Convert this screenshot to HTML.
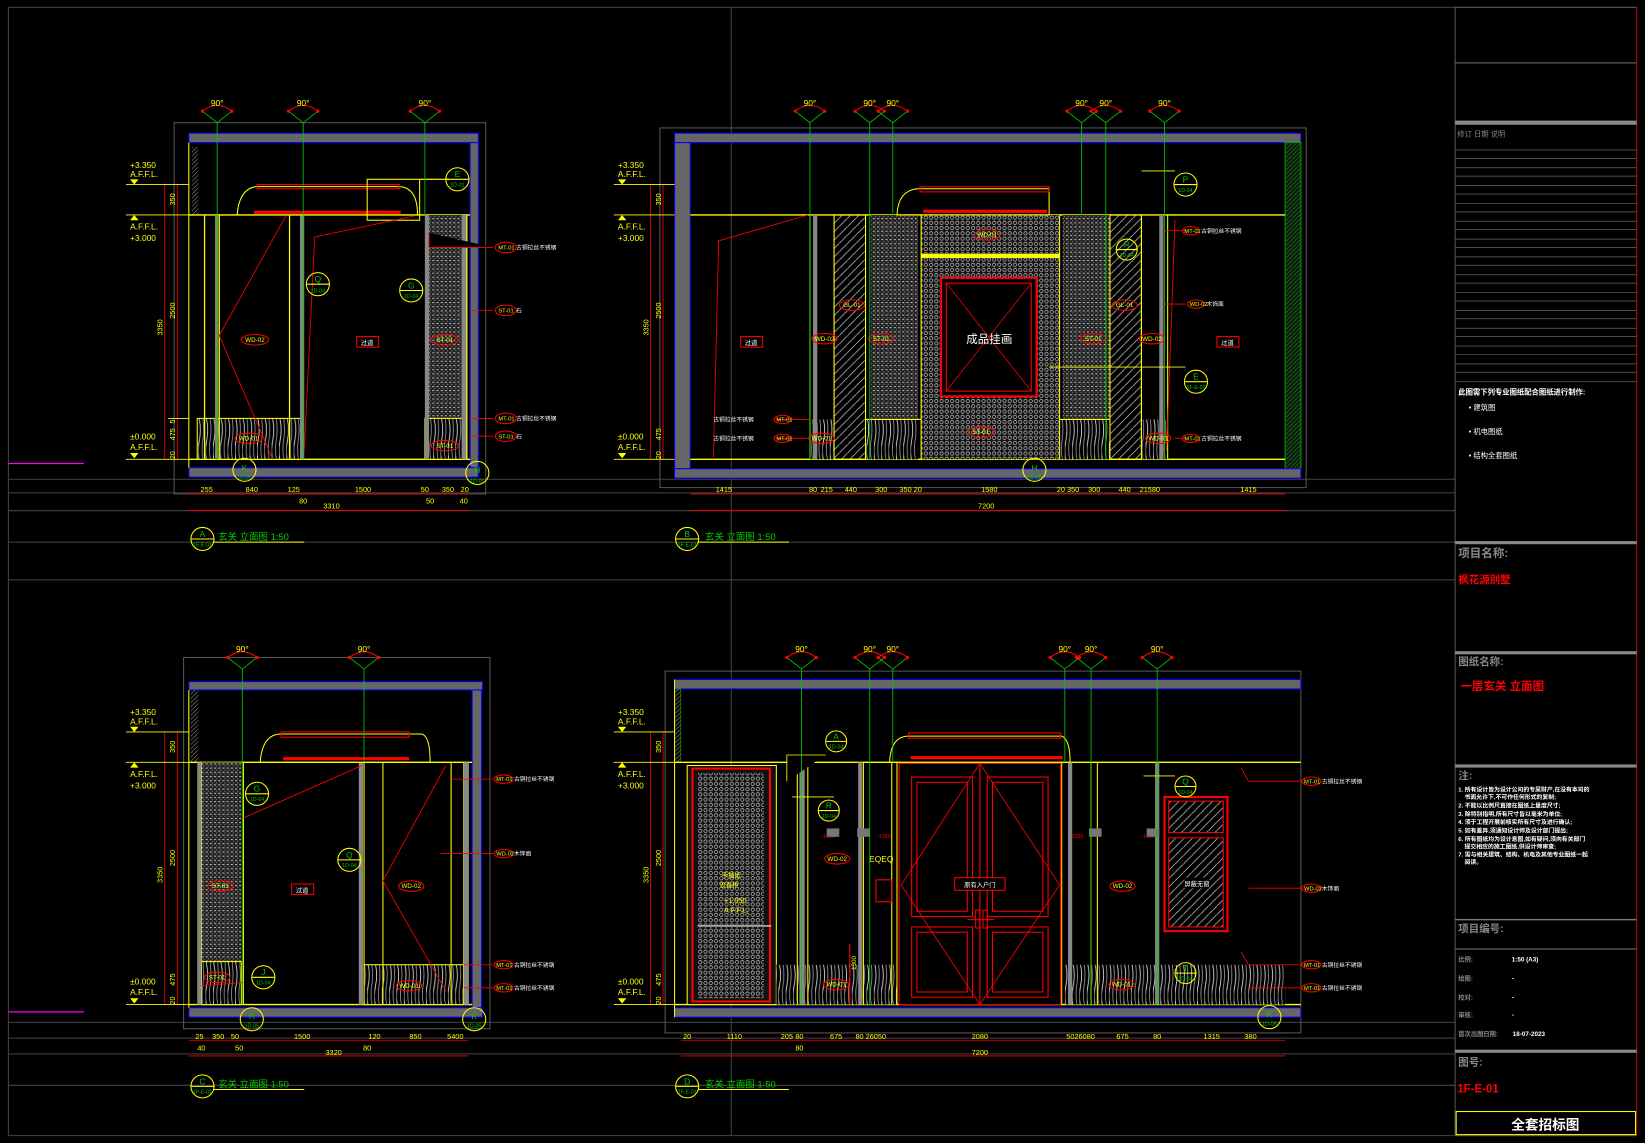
<!DOCTYPE html>
<html><head><meta charset="utf-8">
<style>
html,body{margin:0;padding:0;background:#000;}
svg{display:block;}
text{font-family:"Liberation Sans","Noto Sans CJK SC",sans-serif;}
</style></head>
<body>
<svg width="1645" height="1143" viewBox="0 0 1568 1090" preserveAspectRatio="none" xmlns="http://www.w3.org/2000/svg">
<defs>
<pattern id="wood" width="7" height="40" patternUnits="userSpaceOnUse">
<rect width="7" height="40" fill="#000"/>
<path d="M1 0 Q3 10 1 20 Q-1 30 1 40" stroke="#ddd" stroke-width="0.8" fill="none"/>
<path d="M4.5 0 Q6 12 4 22 Q3 32 5 40" stroke="#999" stroke-width="0.8" fill="none"/>
</pattern>
<pattern id="dots" width="4" height="4" patternUnits="userSpaceOnUse">
<rect width="4" height="4" fill="#222"/>
<rect x="0" y="0" width="2" height="1" fill="#bbb"/>
<rect x="2" y="2" width="1" height="1" fill="#888"/>
</pattern>
<pattern id="mesh" width="5" height="5" patternUnits="userSpaceOnUse">
<rect width="5" height="5" fill="#111"/>
<circle cx="2.5" cy="2.5" r="1.6" stroke="#ccc" stroke-width="0.6" fill="none"/>
</pattern>
<pattern id="hatch" width="4" height="4" patternUnits="userSpaceOnUse">
<path d="M0 4 L4 0" stroke="#888" stroke-width="0.6"/>
</pattern>
<pattern id="ghatch" width="4" height="4" patternUnits="userSpaceOnUse">
<path d="M0 4 L4 0" stroke="#0a0" stroke-width="0.6"/>
</pattern>
<pattern id="whatch" width="8" height="8" patternUnits="userSpaceOnUse">
<path d="M0 8 L8 0" stroke="#ccc" stroke-width="0.7"/>
</pattern>
<symbol id="fan" viewBox="-18 0 36 26" width="36" height="26" overflow="visible">
<path d="M-14 11 Q0 0 14 11" stroke="#f00" stroke-width="1" fill="none"/>
<path d="M-14 11 L0 22 L14 11" stroke="#0c0" stroke-width="0.8" fill="none"/>
<circle cx="-14" cy="11" r="1.6" fill="#f00"/><circle cx="14" cy="11" r="1.6" fill="#f00"/>
<text x="0" y="6" font-size="8" fill="#ff0" text-anchor="middle">90°</text>
</symbol>
</defs>
<rect width="1568" height="1090" fill="#000"/>

<!-- frame lines -->
<g stroke="#444" stroke-width="1" fill="none">
<path d="M8 7 H1560 M8 7 V1083 M8 1083 H1560 M697 7 V1083 M8 553 H1387"/>
<path d="M8 457 H1387 M8 470 H1387 M8 487 H1387 M8 517 H1387"/>
<path d="M8 975 H1387 M8 990 H1387 M8 1005 H1387 M8 1035 H1387"/>
</g>
<path d="M8 442 H80 M8 965 H80" stroke="#f0f" stroke-width="1.2"/>

<!-- TITLE BLOCK -->
<g>
<rect x="1387" y="7" width="173" height="1076" fill="none" stroke="#555"/>
<path d="M1560 7 V1083" stroke="#a00"/>
<path d="M1387 60 H1560" stroke="#666"/>
<rect x="1387" y="115" width="173" height="4" fill="#888"/>
<text x="1389" y="130" font-size="7" fill="#888">修订   日期          说明</text>
<g stroke="#666" stroke-width="0.7">
<path d="M1387 143H1560M1387 151H1560M1387 160H1560M1387 168H1560M1387 177H1560M1387 185H1560M1387 194H1560M1387 202H1560M1387 211H1560M1387 219H1560M1387 228H1560M1387 236H1560M1387 245H1560M1387 253H1560M1387 262H1560M1387 270H1560M1387 279H1560M1387 287H1560M1387 296H1560M1387 304H1560M1387 313H1560M1387 321H1560M1387 330H1560M1387 338H1560M1387 347H1560M1387 355H1560M1387 364H1560"/>
</g>
<text x="1390" y="376" font-size="7" fill="#fff" font-weight="bold">此图需下列专业图纸配合图纸进行制作:</text>
<text x="1400" y="391" font-size="7" fill="#fff">• 建筑图</text>
<text x="1400" y="414" font-size="7" fill="#fff">• 机电图纸</text>
<text x="1400" y="437" font-size="7" fill="#fff">• 结构全套图纸</text>
<rect x="1387" y="516" width="173" height="3" fill="#888"/>
<text x="1390" y="531" font-size="11" fill="#888" font-weight="bold">项目名称:</text>
<text x="1390" y="556" font-size="10" fill="#f00" font-weight="bold">枫花源别墅</text>
<rect x="1387" y="621" width="173" height="3" fill="#888"/>
<text x="1390" y="634" font-size="10" fill="#888" font-weight="bold">图纸名称:</text>
<text x="1392" y="658" font-size="11" fill="#f00" font-weight="bold">一层玄关 立面图</text>
<rect x="1387" y="729" width="173" height="3" fill="#888"/>
<text x="1390" y="743" font-size="10" fill="#888" font-weight="bold">注:</text>
<g font-size="5.6" fill="#fff" font-weight="bold">
<text x="1390" y="755">1. 所有设计皆为设计公司的专属财产,在没有本司的</text>
<text x="1396" y="762">书面允许下,不可作任何形式的复制;</text>
<text x="1390" y="770">2. 不能以比例尺直接在图纸上量度尺寸;</text>
<text x="1390" y="778">3. 除特别指明,所有尺寸皆以毫米为单位;</text>
<text x="1390" y="786">4. 须于工程开展前核实所有尺寸及进行确认;</text>
<text x="1390" y="794">5. 如有差异,须通知设计师及设计部门提出;</text>
<text x="1390" y="802">6. 所有图纸均为设计意图,如有疑问,须向有关部门</text>
<text x="1396" y="809">提交相应的施工图纸,供设计师审查;</text>
<text x="1390" y="817">7. 需与相关建筑、结构、机电及其他专业图纸一起</text>
<text x="1396" y="824">阅读。</text>
</g>
<path d="M1387 877 H1560" stroke="#777" stroke-width="1.5"/>
<text x="1390" y="889" font-size="10" fill="#888" font-weight="bold">项目编号:</text>
<path d="M1387 905 H1560" stroke="#777"/>
<g font-size="6" font-weight="bold">
<text x="1390" y="917" fill="#888">比例:</text><text x="1441" y="917" fill="#fff">1:50 (A3)</text>
<text x="1390" y="935" fill="#888">绘图:</text><text x="1441" y="935" fill="#fff">-</text>
<text x="1390" y="953" fill="#888">校对:</text><text x="1441" y="953" fill="#fff">-</text>
<text x="1390" y="970" fill="#888">审核:</text><text x="1441" y="970" fill="#fff">-</text>
<text x="1390" y="988" fill="#888">首次出图日期:</text><text x="1442" y="988" fill="#fff">18-07-2023</text>
</g>
<rect x="1387" y="1001" width="173" height="3" fill="#888"/>
<text x="1390" y="1016" font-size="10" fill="#888" font-weight="bold">图号:</text>
<text x="1389" y="1042" font-size="11" fill="#f00" font-weight="bold">1F-E-01</text>
<rect x="1388" y="1060" width="171" height="22" fill="none" stroke="#ff0"/>
<text x="1473" y="1077" font-size="13" fill="#fff" font-weight="bold" text-anchor="middle">全套招标图</text>
</g>

<!-- ================ ELEVATION A ================ -->
<g>
<rect x="166" y="117" width="297" height="354" fill="none" stroke="#555"/>
<rect x="180" y="127" width="276" height="9" fill="#666" stroke="#00f"/>
<rect x="448" y="136" width="8" height="311" fill="#666" stroke="#00f"/>
<rect x="180" y="446" width="276" height="9" fill="#666" stroke="#00f"/>
<rect x="183" y="140" width="6" height="65" fill="url(#hatch)"/>
<path d="M180 136 V446" stroke="#ff0"/>
<path d="M180 205 H448 M180 438 H448" stroke="#ff0" stroke-width="1.3"/>
<rect x="188" y="399" width="101" height="39" fill="url(#wood)" stroke="#ff0"/>
<rect x="405" y="205" width="37" height="194" fill="url(#dots)"/>
<rect x="405" y="399" width="37" height="39" fill="url(#wood)" stroke="#ff0"/>
<rect x="205" y="205" width="3" height="233" fill="#888"/>
<rect x="286" y="205" width="4" height="233" fill="#888"/>
<rect x="405" y="205" width="4" height="233" fill="#888"/>
<rect x="440" y="205" width="5" height="233" fill="#888"/>
<path d="M209 205 V438 M276 205 V438 M445 205 V438 M195 205 V438" stroke="#ff0" stroke-width="1.2"/>
<path d="M273 205 L209 320 L260 438" stroke="#f00" fill="none" stroke-width="0.8"/>
<path d="M226 205 Q228 180 244 178 H382 Q398 180 398 205 Z" fill="none" stroke="#ff0"/>
<rect x="245" y="176" width="136" height="4" fill="none" stroke="#f00"/>
<rect x="242" y="201" width="140" height="3" fill="#f00"/>
<rect x="350" y="171" width="50" height="39" fill="none" stroke="#ff0"/>
<path d="M400 171 H425 M395 206 L300 226 L290 430" stroke="#f00" fill="none" stroke-width="0.8"/>
<path d="M400 171 H428" stroke="#ff0"/>
<circle cx="436" cy="171" r="11" fill="none" stroke="#ff0"/><path d="M425 171 H447" stroke="#ff0"/>
<text x="436" y="169" font-size="8" fill="#0c0" text-anchor="middle">E</text><text x="436" y="178" font-size="5" fill="#0c0" text-anchor="middle">1D-01</text>
<circle cx="303" cy="271" r="11" fill="none" stroke="#ff0"/><path d="M292 271 H314" stroke="#ff0"/>
<text x="303" y="269" font-size="8" fill="#0c0" text-anchor="middle">Q</text><text x="303" y="279" font-size="5" fill="#0c0" text-anchor="middle">1D-04</text>
<circle cx="392" cy="277" r="11" fill="none" stroke="#ff0"/><path d="M381 277 H403" stroke="#ff0"/>
<text x="392" y="275" font-size="8" fill="#0c0" text-anchor="middle">G</text><text x="392" y="284" font-size="5" fill="#0c0" text-anchor="middle">1D-04</text>
<rect x="340" y="321" width="21" height="10" fill="none" stroke="#f00"/><text x="350" y="329" font-size="6" fill="#fff" text-anchor="middle">过道</text>
<ellipse cx="243" cy="324" rx="13" ry="5" fill="none" stroke="#f00"/><text x="243" y="326" font-size="6" fill="#ff0" text-anchor="middle">WD-02</text>
<ellipse cx="424" cy="324" rx="13" ry="5" fill="none" stroke="#f00"/><text x="424" y="326" font-size="6" fill="#ff0" text-anchor="middle">ST-01</text>
<ellipse cx="237" cy="418" rx="13" ry="5" fill="none" stroke="#f00"/><text x="237" y="420" font-size="6" fill="#ff0" text-anchor="middle">WD-01</text>
<ellipse cx="424" cy="425" rx="13" ry="5" fill="none" stroke="#f00"/><text x="424" y="427" font-size="6" fill="#ff0" text-anchor="middle">ST-01</text>
<g stroke="#f00" stroke-width="0.8"><path d="M409 222 V236 H470 M448 296 H470 M448 399 H470 M448 416 H470"/></g>
<g font-size="5.5" fill="#ff0">
<ellipse cx="482" cy="236" rx="10" ry="5" fill="none" stroke="#f00"/><text x="475" y="238">MT-01</text><text x="492" y="238" fill="#fff">古铜拉丝不锈钢</text>
<ellipse cx="482" cy="296" rx="10" ry="5" fill="none" stroke="#f00"/><text x="475" y="298">ST-01</text><text x="492" y="298" fill="#fff">石</text>
<ellipse cx="482" cy="399" rx="10" ry="5" fill="none" stroke="#f00"/><text x="475" y="401">MT-01</text><text x="492" y="401" fill="#fff">古铜拉丝不锈钢</text>
<ellipse cx="482" cy="416" rx="10" ry="5" fill="none" stroke="#f00"/><text x="475" y="418">ST-01</text><text x="492" y="418" fill="#fff">石</text>
</g>
<circle cx="233" cy="448" r="11" fill="none" stroke="#ff0"/><text x="233" y="449" font-size="8" fill="#0c0" text-anchor="middle">K</text><text x="233" y="457" font-size="5" fill="#0c0" text-anchor="middle">1D-05</text>
<circle cx="455" cy="451" r="11" fill="none" stroke="#ff0"/><text x="455" y="451" font-size="8" fill="#0c0" text-anchor="middle">H</text><text x="455" y="460" font-size="5" fill="#0c0" text-anchor="middle">1D-01</text>
<!-- green lines & fans -->
<path d="M207 117 V438 M289 117 V438 M405 117 V205" stroke="#0c0" stroke-width="0.8"/>
<use href="#fan" x="189" y="95"/><use href="#fan" x="271" y="95"/><use href="#fan" x="387" y="95"/>
<!-- vertical dims -->
<path d="M157 176 V438 M169 176 V438" stroke="#f00" stroke-width="0.8"/>
<path d="M120 176 H180 M120 205 H180 M120 438 H180 M160 399 H180" stroke="#ff0" stroke-width="0.8"/>
<g font-size="8" fill="#ff0">
<text x="124" y="160">+3.350</text><text x="124" y="169">A.F.F.L.</text>
<text x="124" y="219">A.F.F.L.</text><text x="124" y="230">+3.000</text>
<text x="124" y="419">±0.000</text><text x="124" y="429">A.F.F.L.</text>
</g>
<path d="M124 171 L132 171 L128 176Z M124 210 L132 210 L128 205Z M124 432 L132 432 L128 437Z" fill="#ff0"/>
<g font-size="7" fill="#ff0">
<text transform="translate(155,320) rotate(-90)">3350</text>
<text transform="translate(167,304) rotate(-90)">2500</text>
<text transform="translate(167,196) rotate(-90)">350</text>
<text transform="translate(167,420) rotate(-90)">475</text>
<text transform="translate(167,404) rotate(-90)">5</text>
<text transform="translate(167,438) rotate(-90)">20</text>
</g>
<path d="M180 471 H446 M180 487 H446" stroke="#f00" stroke-width="0.8"/>
<g font-size="7" fill="#ff0" text-anchor="middle">
<text x="197" y="469">255</text><text x="240" y="469">840</text><text x="280" y="469">125</text><text x="346" y="469">1500</text><text x="405" y="469">50</text><text x="427" y="469">350</text><text x="443" y="469">20</text>
<text x="289" y="480">80</text><text x="410" y="480">50</text><text x="442" y="480">40</text>
<text x="316" y="485">3310</text>
</g>
<circle cx="193" cy="514" r="11" fill="none" stroke="#ff0"/><path d="M182 514 H204" stroke="#ff0"/>
<text x="193" y="512" font-size="8" fill="#0c0" text-anchor="middle">A</text><text x="193" y="521" font-size="5" fill="#0c0" text-anchor="middle">1F-E-01</text>
<text x="208" y="515" font-size="9" fill="#0c0">玄关 立面图 1:50</text>
<path d="M204 517 H290" stroke="#ff0"/>
</g>

<!-- ================ ELEVATION B ================ -->
<g>
<rect x="629" y="122" width="616" height="343" fill="none" stroke="#555"/>
<rect x="643" y="127" width="597" height="9" fill="#666" stroke="#00f"/>
<rect x="643" y="136" width="15" height="311" fill="#666" stroke="#00f"/>
<rect x="1225" y="136" width="15" height="311" fill="#111" stroke="#0a0"/>
<rect x="1226" y="137" width="13" height="309" fill="url(#ghatch)"/>
<rect x="643" y="447" width="597" height="9" fill="#666" stroke="#00f"/>
<path d="M658 205 H1225 M658 438 H1225" stroke="#ff0" stroke-width="1.3"/>
<rect x="878" y="205" width="132" height="233" fill="url(#mesh)"/>
<rect x="878" y="242" width="132" height="4" fill="#ff0"/>
<rect x="897" y="265" width="91" height="113" fill="#000" stroke="#f00" stroke-width="2"/>
<rect x="902" y="270" width="81" height="103" fill="none" stroke="#f00"/>
<path d="M902 270 L983 373 M983 270 L902 373" stroke="#f00" stroke-width="0.7"/>
<text x="943" y="327" font-size="11" fill="#fff" text-anchor="middle">成品挂画</text>
<rect x="795" y="205" width="30" height="233" fill="url(#whatch)" stroke="#ff0"/>
<rect x="1058" y="205" width="30" height="233" fill="url(#whatch)" stroke="#ff0"/>
<rect x="830" y="205" width="45" height="233" fill="url(#dots)"/>
<rect x="1013" y="205" width="45" height="233" fill="url(#dots)"/>
<rect x="772" y="400" width="23" height="38" fill="url(#wood)"/>
<rect x="1088" y="400" width="25" height="38" fill="url(#wood)"/>
<rect x="825" y="400" width="50" height="38" fill="url(#wood)"/>
<rect x="1010" y="400" width="48" height="38" fill="url(#wood)"/>
<path d="M772 205 V438 M795 205 V438 M825 205 V438 M878 205 V438 M1010 205 V438 M1058 205 V438 M1088 205 V438 M1113 205 V438 M825 400 H878 M1010 400 H1058" stroke="#ff0" stroke-width="1"/>
<rect x="775" y="205" width="4" height="233" fill="#888"/><rect x="1105" y="205" width="4" height="233" fill="#888"/>
<path d="M855 205 Q856 182 874 180 H1000 Q1000 182 1000 205 Z" fill="none" stroke="#ff0"/>
<rect x="877" y="178" width="123" height="5" fill="none" stroke="#f00"/>
<rect x="880" y="200" width="118" height="3" fill="#f00"/>
<path d="M685 230 L680 438 M684 230 L770 205 M1120 210 L1112 430" stroke="#f00" fill="none" stroke-width="0.8"/>
<rect x="706" y="321" width="21" height="10" fill="none" stroke="#f00"/><text x="716" y="329" font-size="6" fill="#fff" text-anchor="middle">过道</text>
<rect x="1160" y="321" width="21" height="10" fill="none" stroke="#f00"/><text x="1170" y="329" font-size="6" fill="#fff" text-anchor="middle">过道</text>
<g font-size="6" fill="#ff0" text-anchor="middle">
<ellipse cx="786" cy="323" rx="12" ry="5" fill="none" stroke="#f00"/><text x="786" y="325">WD-02</text>
<ellipse cx="1098" cy="323" rx="12" ry="5" fill="none" stroke="#f00"/><text x="1098" y="325">WD-02</text>
<ellipse cx="840" cy="323" rx="12" ry="5" fill="none" stroke="#f00"/><text x="840" y="325">ST-01</text>
<ellipse cx="1042" cy="323" rx="12" ry="5" fill="none" stroke="#f00"/><text x="1042" y="325">ST-01</text>
<ellipse cx="812" cy="291" rx="12" ry="5" fill="none" stroke="#f00"/><text x="812" y="293">GL-01</text>
<ellipse cx="1072" cy="291" rx="12" ry="5" fill="none" stroke="#f00"/><text x="1072" y="293">GL-01</text>
<ellipse cx="783" cy="418" rx="12" ry="5" fill="none" stroke="#f00"/><text x="783" y="420">WD-01</text>
<ellipse cx="1104" cy="418" rx="12" ry="5" fill="none" stroke="#f00"/><text x="1104" y="420">WD-01</text>
<ellipse cx="935" cy="412" rx="12" ry="5" fill="none" stroke="#f00"/><text x="935" y="414">ST-01</text>
<ellipse cx="941" cy="224" rx="12" ry="5" fill="none" stroke="#f00"/><text x="941" y="226">WD-01</text>
</g>
<g font-size="5.5">
<path d="M1110 220 H1130 M1110 290 H1130 M1120 418 H1130 M740 400 H772 M740 418 H772" stroke="#f00" stroke-width="0.8"/>
<ellipse cx="1135" cy="220" rx="8" ry="4" fill="none" stroke="#f00"/><text x="1129" y="222" fill="#ff0">MT-01</text><text x="1145" y="222" fill="#fff">古铜拉丝不锈钢</text>
<ellipse cx="1140" cy="290" rx="8" ry="4" fill="none" stroke="#f00"/><text x="1134" y="292" fill="#ff0">WD-02</text><text x="1150" y="292" fill="#fff">木饰面</text>
<ellipse cx="1135" cy="418" rx="8" ry="4" fill="none" stroke="#f00"/><text x="1129" y="420" fill="#ff0">MT-01</text><text x="1145" y="420" fill="#fff">古铜拉丝不锈钢</text>
<text x="680" y="402" fill="#fff">古铜拉丝不锈钢</text><ellipse cx="746" cy="400" rx="8" ry="4" fill="none" stroke="#f00"/><text x="740" y="402" fill="#ff0">MT-01</text>
<text x="680" y="420" fill="#fff">古铜拉丝不锈钢</text><ellipse cx="746" cy="418" rx="8" ry="4" fill="none" stroke="#f00"/><text x="740" y="420" fill="#ff0">MT-01</text>
</g>
<path d="M1088 163 H1120 M1000 350 H1130" stroke="#ff0" stroke-width="0.8"/>
<circle cx="1130" cy="176" r="11" fill="none" stroke="#ff0"/><path d="M1119 176 H1141" stroke="#ff0"/>
<text x="1130" y="174" font-size="8" fill="#0c0" text-anchor="middle">P</text><text x="1130" y="183" font-size="5" fill="#0c0" text-anchor="middle">1D-04</text>
<circle cx="1074" cy="238" r="10" fill="none" stroke="#ff0"/><path d="M1064 238 H1084" stroke="#ff0"/>
<text x="1074" y="236" font-size="8" fill="#0c0" text-anchor="middle">R</text><text x="1074" y="245" font-size="5" fill="#0c0" text-anchor="middle">1D-04</text>
<circle cx="1140" cy="364" r="11" fill="none" stroke="#ff0"/><path d="M1129 364 H1151" stroke="#ff0"/>
<text x="1140" y="362" font-size="8" fill="#0c0" text-anchor="middle">E</text><text x="1140" y="371" font-size="5" fill="#0c0" text-anchor="middle">1F-E-01</text>
<circle cx="986" cy="448" r="11" fill="none" stroke="#ff0"/><text x="986" y="449" font-size="8" fill="#0c0" text-anchor="middle">H</text><text x="986" y="457" font-size="5" fill="#0c0" text-anchor="middle">1D-05</text>
<path d="M772 117 V438 M829 117 V438 M851 117 V205 M1031 117 V205 M1054 117 V438 M1110 117 V438" stroke="#0c0" stroke-width="0.8"/>
<use href="#fan" x="754" y="95"/><use href="#fan" x="811" y="95"/><use href="#fan" x="833" y="95"/>
<use href="#fan" x="1013" y="95"/><use href="#fan" x="1036" y="95"/><use href="#fan" x="1092" y="95"/>
<path d="M620 176 V438 M632 176 V438" stroke="#f00" stroke-width="0.8"/>
<path d="M585 176 H643 M585 205 H643 M585 438 H643" stroke="#ff0" stroke-width="0.8"/>
<g font-size="8" fill="#ff0">
<text x="589" y="160">+3.350</text><text x="589" y="169">A.F.F.L.</text>
<text x="589" y="219">A.F.F.L.</text><text x="589" y="230">+3.000</text>
<text x="589" y="419">±0.000</text><text x="589" y="429">A.F.F.L.</text>
</g>
<path d="M589 171 L597 171 L593 176Z M589 210 L597 210 L593 205Z M589 432 L597 432 L593 437Z" fill="#ff0"/>
<g font-size="7" fill="#ff0">
<text transform="translate(618,320) rotate(-90)">3350</text>
<text transform="translate(630,304) rotate(-90)">2500</text>
<text transform="translate(630,196) rotate(-90)">350</text>
<text transform="translate(630,420) rotate(-90)">475</text>
<text transform="translate(630,438) rotate(-90)">20</text>
</g>
<path d="M658 471 H1225 M658 487 H1225" stroke="#f00" stroke-width="0.8"/>
<g font-size="7" fill="#ff0" text-anchor="middle">
<text x="690" y="469">1415</text><text x="775" y="469">80</text><text x="788" y="469">215</text><text x="811" y="469">440</text><text x="840" y="469">300</text><text x="868" y="469">350 20</text>
<text x="943" y="469">1580</text><text x="1018" y="469">20 350</text><text x="1043" y="469">300</text><text x="1072" y="469">440</text><text x="1096" y="469">21580</text><text x="1190" y="469">1415</text>
<text x="940" y="485">7200</text>
</g>
<circle cx="655" cy="514" r="11" fill="none" stroke="#ff0"/><path d="M644 514 H666" stroke="#ff0"/>
<text x="655" y="512" font-size="8" fill="#0c0" text-anchor="middle">B</text><text x="655" y="521" font-size="5" fill="#0c0" text-anchor="middle">1F-E-01</text>
<text x="672" y="515" font-size="9" fill="#0c0">玄关 立面图 1:50</text>
<path d="M666 517 H752" stroke="#ff0"/>
</g>

<!-- ================ ELEVATION C ================ -->
<g>
<rect x="175" y="627" width="292" height="354" fill="none" stroke="#555"/>
<rect x="180" y="650" width="280" height="8" fill="#666" stroke="#00f"/>
<rect x="450" y="658" width="9" height="303" fill="#666" stroke="#00f"/>
<rect x="180" y="961" width="280" height="9" fill="#666" stroke="#00f"/>
<path d="M180 658 V961" stroke="#ff0"/>
<rect x="182" y="658" width="7" height="70" fill="url(#hatch)"/>
<path d="M180 727 H450 M180 958 H450" stroke="#ff0" stroke-width="1.3"/>
<rect x="192" y="727" width="38" height="190" fill="url(#dots)"/>
<rect x="192" y="917" width="38" height="41" fill="url(#wood)" stroke="#ff0"/>
<rect x="347" y="920" width="95" height="38" fill="url(#wood)" stroke="#ff0"/>
<path d="M192 727 V958 M232 727 V958 M347 727 V958 M365 727 V958 M430 727 V958 M442 727 V958" stroke="#ff0"/>
<rect x="188" y="727" width="4" height="231" fill="#888"/><rect x="342" y="727" width="4" height="231" fill="#888"/><rect x="442" y="727" width="5" height="231" fill="#888"/>
<path d="M248 727 Q250 700 268 700 H402 Q410 702 410 727 Z" fill="none" stroke="#ff0"/>
<rect x="268" y="698" width="122" height="5" fill="none" stroke="#f00"/>
<rect x="270" y="722" width="120" height="3" fill="#f00"/>
<path d="M425 730 L365 840 L425 945 M232 780 L345 730 M232 937 L192 940" stroke="#f00" fill="none" stroke-width="0.8"/>
<rect x="278" y="843" width="21" height="10" fill="none" stroke="#f00"/><text x="288" y="851" font-size="6" fill="#fff" text-anchor="middle">过道</text>
<g font-size="6" fill="#ff0" text-anchor="middle">
<ellipse cx="210" cy="845" rx="12" ry="5" fill="none" stroke="#f00"/><text x="210" y="847">ST-01</text>
<ellipse cx="392" cy="845" rx="12" ry="5" fill="none" stroke="#f00"/><text x="392" y="847">WD-02</text>
<ellipse cx="207" cy="932" rx="12" ry="5" fill="none" stroke="#f00"/><text x="207" y="934">ST-01</text>
<ellipse cx="390" cy="940" rx="12" ry="5" fill="none" stroke="#f00"/><text x="390" y="942">WD-01</text>
</g>
<circle cx="245" cy="757" r="11" fill="none" stroke="#ff0"/><path d="M234 757 H256" stroke="#ff0"/>
<text x="245" y="755" font-size="8" fill="#0c0" text-anchor="middle">G</text><text x="245" y="764" font-size="5" fill="#0c0" text-anchor="middle">1D-04</text>
<circle cx="333" cy="820" r="11" fill="none" stroke="#ff0"/><path d="M322 820 H344" stroke="#ff0"/>
<text x="333" y="818" font-size="8" fill="#0c0" text-anchor="middle">Q</text><text x="333" y="827" font-size="5" fill="#0c0" text-anchor="middle">1D-04</text>
<circle cx="251" cy="932" r="11" fill="none" stroke="#ff0"/><path d="M240 932 H262" stroke="#ff0"/>
<text x="251" y="930" font-size="8" fill="#0c0" text-anchor="middle">J</text><text x="251" y="939" font-size="5" fill="#0c0" text-anchor="middle">1D-04</text>
<circle cx="240" cy="972" r="11" fill="none" stroke="#ff0"/><text x="240" y="972" font-size="8" fill="#0c0" text-anchor="middle">H</text><text x="240" y="980" font-size="5" fill="#0c0" text-anchor="middle">1D-05</text>
<circle cx="452" cy="972" r="11" fill="none" stroke="#ff0"/><text x="452" y="972" font-size="8" fill="#0c0" text-anchor="middle">K</text><text x="452" y="980" font-size="5" fill="#0c0" text-anchor="middle">1D-05</text>
<g font-size="5.5">
<path d="M430 743 H470 M420 814 H470 M442 920 H470 M442 942 H470" stroke="#f00" stroke-width="0.8"/>
<ellipse cx="480" cy="743" rx="9" ry="4" fill="none" stroke="#f00"/><text x="473" y="745" fill="#ff0">MT-01</text><text x="490" y="745" fill="#fff">古铜拉丝不锈钢</text>
<ellipse cx="480" cy="814" rx="9" ry="4" fill="none" stroke="#f00"/><text x="473" y="816" fill="#ff0">WD-02</text><text x="490" y="816" fill="#fff">木饰面</text>
<ellipse cx="480" cy="920" rx="9" ry="4" fill="none" stroke="#f00"/><text x="473" y="922" fill="#ff0">MT-01</text><text x="490" y="922" fill="#fff">古铜拉丝不锈钢</text>
<ellipse cx="480" cy="942" rx="9" ry="4" fill="none" stroke="#f00"/><text x="473" y="944" fill="#ff0">MT-01</text><text x="490" y="944" fill="#fff">古铜拉丝不锈钢</text>
</g>
<path d="M231 638 V958 M347 638 V727" stroke="#0c0" stroke-width="0.8"/>
<use href="#fan" x="213" y="616"/><use href="#fan" x="329" y="616"/>
<path d="M157 698 V958 M169 698 V958" stroke="#f00" stroke-width="0.8"/>
<path d="M120 698 H180 M120 727 H180 M120 958 H180" stroke="#ff0" stroke-width="0.8"/>
<g font-size="8" fill="#ff0">
<text x="124" y="682">+3.350</text><text x="124" y="691">A.F.F.L.</text>
<text x="124" y="741">A.F.F.L.</text><text x="124" y="752">+3.000</text>
<text x="124" y="939">±0.000</text><text x="124" y="949">A.F.F.L.</text>
</g>
<path d="M124 693 L132 693 L128 698Z M124 732 L132 732 L128 727Z M124 952 L132 952 L128 957Z" fill="#ff0"/>
<g font-size="7" fill="#ff0">
<text transform="translate(155,842) rotate(-90)">3350</text>
<text transform="translate(167,826) rotate(-90)">2500</text>
<text transform="translate(167,718) rotate(-90)">350</text>
<text transform="translate(167,940) rotate(-90)">475</text>
<text transform="translate(167,958) rotate(-90)">20</text>
</g>
<path d="M180 992 H446 M180 1007 H446" stroke="#f00" stroke-width="0.8"/>
<g font-size="7" fill="#ff0" text-anchor="middle">
<text x="190" y="991">25</text><text x="208" y="991">350</text><text x="224" y="991">50</text><text x="288" y="991">1500</text><text x="357" y="991">120</text><text x="396" y="991">850</text><text x="434" y="991">5400</text>
<text x="192" y="1002">40</text><text x="228" y="1002">50</text><text x="350" y="1002">80</text>
<text x="318" y="1006">3320</text>
</g>
<circle cx="193" cy="1036" r="11" fill="none" stroke="#ff0"/><path d="M182 1036 H204" stroke="#ff0"/>
<text x="193" y="1034" font-size="8" fill="#0c0" text-anchor="middle">C</text><text x="193" y="1043" font-size="5" fill="#0c0" text-anchor="middle">1F-E-01</text>
<text x="208" y="1037" font-size="9" fill="#0c0">玄关 立面图 1:50</text>
<path d="M204 1039 H290" stroke="#ff0"/>
</g>

<!-- ================ ELEVATION D ================ -->
<g>
<rect x="634" y="640" width="606" height="345" fill="none" stroke="#555"/>
<rect x="643" y="648" width="597" height="9" fill="#666" stroke="#00f"/>
<rect x="643" y="961" width="597" height="9" fill="#666" stroke="#00f"/>
<rect x="643" y="657" width="6" height="70" fill="url(#hatch)" stroke="#0c0" stroke-width="0.5"/>
<path d="M643 648 V970" stroke="#ff0"/>
<path d="M643 727 H1240 M643 958 H1240" stroke="#ff0" stroke-width="1.3"/>
<rect x="655" y="730" width="85" height="228" fill="#111" stroke="#ff0"/>
<rect x="660" y="733" width="74" height="222" fill="none" stroke="#f00" stroke-width="2"/>
<rect x="665" y="737" width="63" height="145" fill="url(#mesh)"/>
<rect x="665" y="884" width="63" height="68" fill="url(#mesh)"/>
<path d="M665 883 H735" stroke="#fff"/>
<text x="688" y="837" font-size="6" fill="#ff0">手抽纸</text><text x="686" y="846" font-size="6" fill="#ff0">设备柜</text>
<text x="690" y="861" font-size="7" fill="#ff0">+1.050</text><text x="690" y="870" font-size="7" fill="#ff0">A.F.F.L.</text>
<rect x="740" y="920" width="115" height="38" fill="url(#wood)"/>
<rect x="1015" y="920" width="210" height="38" fill="url(#wood)"/>
<rect x="762" y="727" width="5" height="231" fill="#888"/><rect x="818" y="727" width="4" height="231" fill="#888"/>
<rect x="1018" y="727" width="4" height="231" fill="#888"/><rect x="1101" y="727" width="4" height="231" fill="#888"/>
<path d="M760 727 V958 M770 727 V958 M823 727 V958 M850 727 V958 M855 727 V958 M1012 727 V958 M1040 727 V958 M1046 727 V958" stroke="#ff0"/>
<!-- door -->
<rect x="857" y="728" width="154" height="230" fill="#000" stroke="#f00"/>
<path d="M934 728 V958" stroke="#f00"/>
<rect x="869" y="741" width="58" height="133" fill="none" stroke="#f00"/><rect x="874" y="746" width="48" height="123" fill="none" stroke="#f00"/>
<rect x="941" y="741" width="58" height="133" fill="none" stroke="#f00"/><rect x="946" y="746" width="48" height="123" fill="none" stroke="#f00"/>
<rect x="869" y="884" width="58" height="67" fill="none" stroke="#f00"/><rect x="874" y="889" width="48" height="57" fill="none" stroke="#f00"/>
<rect x="941" y="884" width="58" height="67" fill="none" stroke="#f00"/><rect x="946" y="889" width="48" height="57" fill="none" stroke="#f00"/>
<path d="M934 728 L859 844 L934 958 L1010 844 Z" fill="none" stroke="#f00" stroke-width="0.8"/>
<rect x="930" y="868" width="4" height="17" fill="none" stroke="#f00"/><rect x="937" y="868" width="4" height="17" fill="none" stroke="#f00"/>
<path d="M922 877 H948" stroke="#f00"/>
<rect x="910" y="837" width="48" height="12" fill="#000" stroke="#f00"/><text x="934" y="846" font-size="6" fill="#fff" text-anchor="middle">原有入户门</text>
<path d="M848 727 Q849 702 866 702 H1012 Q1020 705 1020 727 Z" fill="none" stroke="#ff0"/>
<rect x="866" y="699" width="145" height="5" fill="none" stroke="#f00"/>
<rect x="868" y="721" width="145" height="3" fill="#f00"/>
<!-- window -->
<rect x="1110" y="760" width="60" height="128" fill="#000" stroke="#f00" stroke-width="2"/>
<rect x="1114" y="764" width="52" height="30" fill="url(#whatch)" stroke="#f00"/>
<rect x="1114" y="799" width="52" height="85" fill="url(#whatch)" stroke="#f00"/>
<rect x="1129" y="837" width="24" height="10" fill="#000"/><text x="1141" y="845" font-size="6" fill="#fff" text-anchor="middle">屏蔽无窗</text>
<path d="M835 839 H850 V860 H835 Z" fill="none" stroke="#f00"/>
<text x="840" y="822" font-size="8" fill="#ff0" text-anchor="middle">EQEQ</text>
<path d="M810 900 V958" stroke="#f00"/><text transform="translate(816,925) rotate(-90)" font-size="6" fill="#ff0">1300</text>
<g font-size="6" fill="#ff0" text-anchor="middle">
<ellipse cx="798" cy="819" rx="12" ry="5" fill="none" stroke="#f00"/><text x="798" y="821">WD-02</text>
<ellipse cx="1070" cy="845" rx="12" ry="5" fill="none" stroke="#f00"/><text x="1070" y="847">WD-02</text>
<ellipse cx="797" cy="939" rx="12" ry="5" fill="none" stroke="#f00"/><text x="797" y="941">WD-01</text>
<ellipse cx="1069" cy="939" rx="12" ry="5" fill="none" stroke="#f00"/><text x="1069" y="941">WD-01</text>
</g>
<g font-size="5" fill="#f00"><text x="783" y="799">-1050</text><text x="836" y="799">-1050</text><text x="1020" y="799">-1050</text><text x="1088" y="799">-1050</text></g>
<rect x="788" y="790" width="12" height="8" fill="#777"/><rect x="817" y="790" width="12" height="8" fill="#777"/><rect x="1038" y="790" width="12" height="8" fill="#777"/><rect x="1093" y="790" width="12" height="8" fill="#777"/>
<circle cx="797" cy="707" r="10" fill="none" stroke="#ff0"/><path d="M787 707 H807" stroke="#ff0"/>
<text x="797" y="705" font-size="8" fill="#0c0" text-anchor="middle">A</text><text x="797" y="714" font-size="5" fill="#0c0" text-anchor="middle">1D-04</text>
<circle cx="790" cy="773" r="10" fill="none" stroke="#ff0"/><path d="M780 773 H800" stroke="#ff0"/>
<text x="790" y="771" font-size="8" fill="#0c0" text-anchor="middle">R</text><text x="790" y="780" font-size="5" fill="#0c0" text-anchor="middle">1D-04</text>
<circle cx="1130" cy="750" r="10" fill="none" stroke="#ff0"/><path d="M1120 750 H1140" stroke="#ff0"/>
<text x="1130" y="748" font-size="8" fill="#0c0" text-anchor="middle">Q</text><text x="1130" y="757" font-size="5" fill="#0c0" text-anchor="middle">1D-04</text>
<circle cx="1130" cy="928" r="10" fill="none" stroke="#ff0"/><path d="M1120 928 H1140" stroke="#ff0"/>
<text x="1130" y="926" font-size="8" fill="#0c0" text-anchor="middle">T</text><text x="1130" y="935" font-size="5" fill="#0c0" text-anchor="middle">1D-04</text>
<circle cx="1210" cy="970" r="11" fill="none" stroke="#ff0"/><text x="1210" y="970" font-size="8" fill="#0c0" text-anchor="middle">K</text><text x="1210" y="978" font-size="5" fill="#0c0" text-anchor="middle">1D-05</text>
<path d="M750 745 V720 H787 M795 760 H755 M1090 740 H1120" stroke="#ff0" stroke-width="0.8"/>
<g font-size="5.5">
<path d="M1183 732 L1190 745 H1240 M1190 847 H1240 M1183 908 L1190 920 H1240 M1190 942 H1240" stroke="#f00" stroke-width="0.8" fill="none"/>
<ellipse cx="1250" cy="745" rx="9" ry="4" fill="none" stroke="#f00"/><text x="1243" y="747" fill="#ff0">MT-01</text><text x="1260" y="747" fill="#fff">古铜拉丝不锈钢</text>
<ellipse cx="1250" cy="847" rx="9" ry="4" fill="none" stroke="#f00"/><text x="1243" y="849" fill="#ff0">WD-02</text><text x="1260" y="849" fill="#fff">木饰面</text>
<ellipse cx="1250" cy="920" rx="9" ry="4" fill="none" stroke="#f00"/><text x="1243" y="922" fill="#ff0">MT-01</text><text x="1260" y="922" fill="#fff">古铜拉丝不锈钢</text>
<ellipse cx="1250" cy="942" rx="9" ry="4" fill="none" stroke="#f00"/><text x="1243" y="944" fill="#ff0">MT-01</text><text x="1260" y="944" fill="#fff">古铜拉丝不锈钢</text>
</g>
<path d="M764 638 V958 M829 638 V958 M851 638 V727 M1015 638 V727 M1040 638 V958 M1103 638 V958" stroke="#0c0" stroke-width="0.8"/>
<use href="#fan" x="746" y="616"/><use href="#fan" x="811" y="616"/><use href="#fan" x="833" y="616"/>
<use href="#fan" x="997" y="616"/><use href="#fan" x="1022" y="616"/><use href="#fan" x="1085" y="616"/>
<path d="M620 698 V958 M632 698 V958" stroke="#f00" stroke-width="0.8"/>
<path d="M585 698 H643 M585 727 H643 M585 958 H643" stroke="#ff0" stroke-width="0.8"/>
<g font-size="8" fill="#ff0">
<text x="589" y="682">+3.350</text><text x="589" y="691">A.F.F.L.</text>
<text x="589" y="741">A.F.F.L.</text><text x="589" y="752">+3.000</text>
<text x="589" y="939">±0.000</text><text x="589" y="949">A.F.F.L.</text>
</g>
<path d="M589 693 L597 693 L593 698Z M589 732 L597 732 L593 727Z M589 952 L597 952 L593 957Z" fill="#ff0"/>
<g font-size="7" fill="#ff0">
<text transform="translate(618,842) rotate(-90)">3350</text>
<text transform="translate(630,826) rotate(-90)">2500</text>
<text transform="translate(630,718) rotate(-90)">350</text>
<text transform="translate(630,940) rotate(-90)">475</text>
<text transform="translate(630,958) rotate(-90)">20</text>
</g>
<path d="M649 992 H1225 M649 1007 H1225" stroke="#f00" stroke-width="0.8"/>
<g font-size="7" fill="#ff0" text-anchor="middle">
<text x="655" y="991">20</text><text x="700" y="991">1110</text><text x="750" y="991">205</text><text x="762" y="991">80</text><text x="797" y="991">675</text><text x="830" y="991">80 26050</text>
<text x="934" y="991">2080</text><text x="1030" y="991">5026080</text><text x="1070" y="991">675</text><text x="1103" y="991">80</text><text x="1155" y="991">1315</text><text x="1192" y="991">380</text>
<text x="762" y="1002">80</text><text x="934" y="1006">7200</text>
</g>
<circle cx="655" cy="1036" r="11" fill="none" stroke="#ff0"/><path d="M644 1036 H666" stroke="#ff0"/>
<text x="655" y="1034" font-size="8" fill="#0c0" text-anchor="middle">D</text><text x="655" y="1043" font-size="5" fill="#0c0" text-anchor="middle">1F-E-01</text>
<text x="672" y="1037" font-size="9" fill="#0c0">玄关 立面图 1:50</text>
<path d="M666 1039 H752" stroke="#ff0"/>
</g>
</svg>
</body></html>
